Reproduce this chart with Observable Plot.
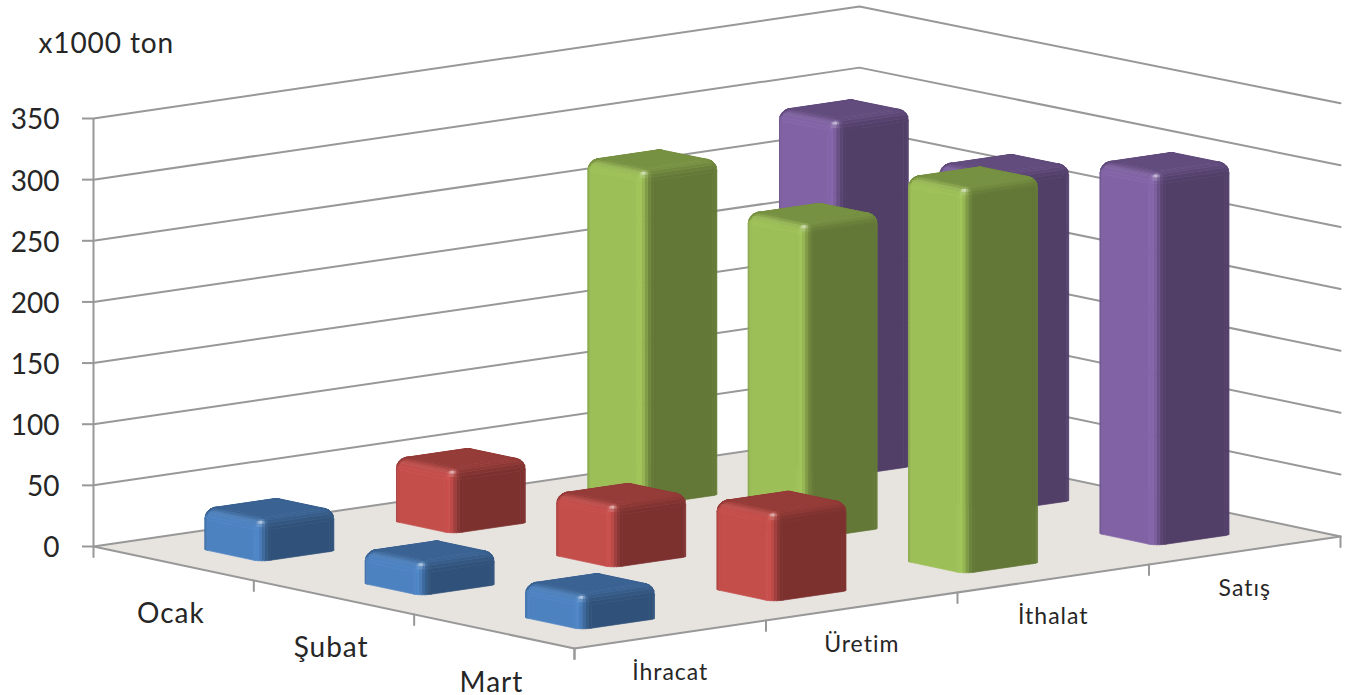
<!DOCTYPE html>
<html>
<head>
<meta charset="utf-8">
<script src="https://cdn.jsdelivr.net/npm/d3@7"></script>
<script src="https://cdn.jsdelivr.net/npm/@observablehq/plot@0.6"></script>
<style>
html,body{margin:0;padding:0;background:#fff}
svg{display:block}
</style>
</head>
<body>
<div id="chart"></div>
<script>
const categories = ["İhracat", "Üretim", "İthalat", "Satış"];
const months = ["Ocak", "Şubat", "Mart"];
const ihracat = [34, 27, 28];
const uretim = [52, 51, 72];
const ithalat = [273, 256, 312];
const satis = [291, 273, 301];
const seriesValues = [ihracat, uretim, ithalat, satis];
const seriesColors = ["#4a7ebb", "#be4b48", "#98b954", "#7d60a0"];
const yTicks = [0, 50, 100, 150, 200, 250, 300, 350];
const unitLabel = "x1000 ton";
const gridColor = "#989898";
const floorColor = "#e7e3df";
const textColor = "#262626";

// oblique view of the (category, month, value) box, expressed in x/y scale units
const monthShiftX = 0.8372, catRiseY = 22.9, monthDropY = 27.8, perspective = 0.012;
const project = (c, m, v) => ({
  x: c + m * monthShiftX,
  y: v * (1 + perspective * m / 3) + c * catRiseY - m * monthDropY
});
const nC = categories.length, nM = months.length;

const lines = (list) => list.flatMap((pts, i) => pts.map(p => ({id: i, ...project(...p)})));
const gridRows = lines(yTicks.map(v => [[0, 0, v], [nC, 0, v], [nC, nM, v]]));
const floorRows = lines([[[0, 0, 0], [nC, 0, 0], [nC, nM, 0], [0, nM, 0], [0, 0, 0]]]);
const edgeRows = lines([[[0, 0, 0], [0, nM, 0], [nC, nM, 0]]]);
const tickLen = 8.5;
const floorTickRows = lines([
  ...d3.range(nM + 1).map(m => [[0, m, 0], [0, m, -tickLen]]),
  ...d3.range(nC + 1).map(c => [[c, nM, 0], [c, nM, -tickLen]])
]);

// one rounded bar as a small mesh of shaded faces
const halfC = 0.204, halfM = 0.19, rc = 0.25, bevelH = 9, K = 6, rings = 5;
const lightDir = (() => { const l = [-0.6, 0.4, 0.69], n = Math.hypot(...l); return l.map(d => d / n); })();
function shade(base, nx, ny, nz) {
  const len = Math.hypot(nx, ny, nz); nx /= len; ny /= len; nz /= len;
  const wL = Math.max(-nx, 0) ** 2, wR = Math.max(ny, 0) ** 2, wT = 1 - wL - wR;
  const k = wL * 1 + wR * 0.65 + wT * 0.76;
  const d = Math.max(0, nx * lightDir[0] + ny * lightDir[1] + nz * lightDir[2]);
  const q = Math.max(0, -0.85 * nx + 0.53 * ny);
  const rgb = d3.rgb(base);
  const mix = ch => {
    let v = ch * k * (1 + 0.18 * d ** 5 + 0.1 * q ** 10);
    v += (255 - v) * 0.6 * d ** 30;
    return Math.round(Math.min(255, v));
  };
  return `rgb(${mix(rgb.r)},${mix(rgb.g)},${mix(rgb.b)})`;
}
function ringDirs() {
  const dirs = [];
  const corners = [[1, 1, 0], [-1, 1, 90], [-1, -1, 180], [1, -1, 270]];
  for (const [sx, sy, a0] of corners) {
    for (let k = 0; k <= K; k++) {
      const a = (a0 + 90 * k / K) * Math.PI / 180;
      dirs.push({sx, sy, nx: Math.cos(a), ny: Math.sin(a)});
    }
  }
  return dirs;
}
const dirs = ringDirs();
const view = [-0.55, 0.55, 0.62];
let faceId = 0;
function barFaces(ci, mi, value, base) {
  const rows = [];
  const pt = (d, inset, h) => {
    const r = rc - inset;
    const s = d.sx * (1 - rc) + r * d.nx;
    const t = d.sy * (1 - rc) + r * d.ny;
    return project(ci + 0.5 + s * halfC, mi + 0.5 + t * halfM, h);
  };
  const addFace = (pts, col) => {
    faceId++;
    [...pts, pts[0]].forEach(p => rows.push({id: faceId, x: p.x, y: p.y, col}));
  };
  const N = dirs.length;
  const levels = [{inset: 0, h: 0, ns: 0}];
  for (let i = 0; i <= rings; i++) {
    const th = (i / rings) * Math.PI / 2;
    levels.push({inset: rc * (1 - Math.cos(th)) * 0.999, h: value - bevelH * (1 - Math.sin(th)), th});
  }
  for (let l = 0; l < levels.length - 1; l++) {
    const a = levels[l], b = levels[l + 1];
    const thm = l === 0 ? 0 : (a.th + b.th) / 2;
    for (let i = 0; i < N; i++) {
      const d0 = dirs[i], d1 = dirs[(i + 1) % N];
      let nx = (d0.nx + d1.nx) / 2, ny = (d0.ny + d1.ny) / 2;
      const hl = Math.hypot(nx, ny); nx /= hl; ny /= hl;
      const nh = Math.cos(thm), nz = Math.sin(thm);
      const n = [nx * nh, ny * nh, nz];
      if (n[0] * view[0] + n[1] * view[1] + n[2] * view[2] <= 0) continue;
      addFace([pt(d0, a.inset, a.h), pt(d1, a.inset, a.h), pt(d1, b.inset, b.h), pt(d0, b.inset, b.h)], shade(base, ...n));
    }
  }
  addFace(dirs.map(d => pt(d, rc * 0.999, value)), shade(base, 0, 0, 1));
  return rows;
}
const order = [];
seriesValues.forEach((vals, ci) => vals.forEach((v, mi) => order.push({ci, mi, v})));
order.sort((a, b) => (a.mi - a.ci) - (b.mi - b.ci));
const barRows = order.flatMap(b => barFaces(b.ci, b.mi, b.v, seriesColors[b.ci]));

const monthLabels = months.map((t, m) => ({t, ...project(-0.015, m + 0.5, -41)}));
const catLabels = categories.map((t, c) => ({t, ...project(c + 0.5, nM, -31)}));

const soften = (index, scales, values, dims, ctx, next) => {
  const g = next(index, scales, values, dims, ctx);
  g.style.filter = "blur(0.7px)";
  return g;
};
const spaced = (px) => (index, scales, values, dims, ctx, next) => {
  const g = next(index, scales, values, dims, ctx);
  g.style.letterSpacing = px + "px";
  return g;
};

const plot = Plot.plot({
  width: 1357,
  height: 695,
  marginLeft: 93,
  marginRight: 17,
  marginTop: 118,
  marginBottom: 149,
  style: {fontFamily: "Lato", background: "#fff", overflow: "visible"},
  x: {domain: [0, nC + nM * monthShiftX], axis: null},
  y: {domain: [0, 350], axis: null},
  marks: [
    Plot.line(floorRows, {x: "x", y: "y", z: "id", fill: floorColor, stroke: "none"}),
    Plot.line(gridRows, {x: "x", y: "y", z: "id", stroke: gridColor, strokeWidth: 2}),
    Plot.line(edgeRows, {x: "x", y: "y", z: "id", stroke: gridColor, strokeWidth: 2}),
    Plot.line(floorTickRows, {x: "x", y: "y", z: "id", stroke: gridColor, strokeWidth: 2}),
    Plot.ruleX([0], {y1: 0, y2: 350, stroke: gridColor, strokeWidth: 2}),
    Plot.axisY({ticks: yTicks, tickSize: 11, stroke: gridColor, strokeWidth: 2, fill: "none", label: null}),
    Plot.axisY({ticks: yTicks, tickSize: 0, tickPadding: 34, dy: 2, fill: textColor, fontSize: 28, label: null}),
    Plot.line(barRows, {x: "x", y: "y", z: "id", fill: "col", stroke: "col", strokeWidth: 0.7, render: soften}),
    Plot.text(monthLabels, {x: "x", y: "y", text: "t", fontSize: 28, fill: textColor, render: spaced(1)}),
    Plot.text(catLabels, {x: "x", y: "y", text: "t", fontSize: 23, fill: textColor, render: spaced(1)}),
    Plot.text([unitLabel], {frameAnchor: "top-left", dx: -55, dy: -74, fontSize: 28, fill: textColor, textAnchor: "start", lineAnchor: "middle", render: spaced(0.9)})
  ]
});
document.getElementById("chart").appendChild(plot);
</script>
</body>
</html>
